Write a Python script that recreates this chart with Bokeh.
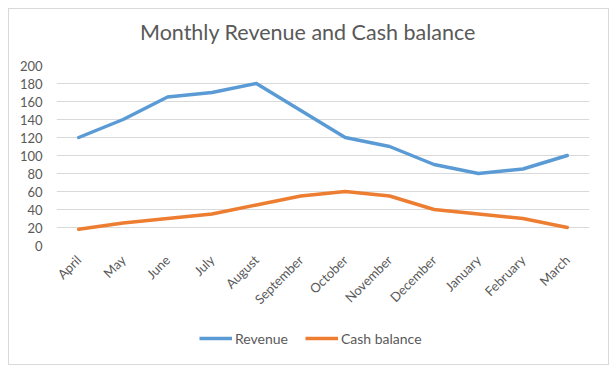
import math
from bokeh.plotting import figure
from bokeh.layouts import column
from bokeh.models import FactorRange, Range1d, FixedTicker, Legend, LegendItem, Div
from bokeh.embed import file_html
from bokeh.resources import INLINE

title_text = "Monthly Revenue and Cash balance"
months = ["April", "May", "June", "July", "August", "September", "October",
          "November", "December", "January", "February", "March"]
revenue = [120, 140, 165, 170, 180, 150, 120, 110, 90, 80, 85, 100]
cash_balance = [18, 25, 30, 35, 45, 55, 60, 55, 40, 35, 30, 20]
y_ticks = [0, 20, 40, 60, 80, 100, 120, 140, 160, 180, 200]

FONT = "Lato"
GREY = "#595959"
BLUE = "#5B9BD5"
ORANGE = "#ED7D31"

# title strip
title = Div(text=('<div style="font-family:Lato;font-size:21.5px;line-height:26px;'
                  'color:#595959;padding:10px 0 0 131px;white-space:nowrap;">'
                  + title_text + '</div>'),
            width=599, height=46, margin=0)

p = figure(width=599, height=265, output_backend="svg", toolbar_location=None,
           x_range=FactorRange(*months, range_padding=0),
           y_range=Range1d(0, 200))

p.min_border_left = 47
p.min_border_right = 19
p.min_border_top = 10
p.min_border_bottom = 75
p.outline_line_color = None

p.line(months, revenue, line_color=BLUE, line_width=3.5, line_join="round", line_cap="round")
p.line(months, cash_balance, line_color=ORANGE, line_width=3.5, line_join="round", line_cap="round")

p.xgrid.grid_line_color = None
p.ygrid.grid_line_color = "#D9D9D9"
p.ygrid.grid_line_width = 1

p.yaxis.ticker = FixedTicker(ticks=y_ticks)
for ax in (p.xaxis[0], p.yaxis[0]):
    ax.axis_line_color = None
    ax.major_tick_line_color = None
    ax.minor_tick_line_color = None
    ax.major_label_text_font = FONT
    ax.major_label_text_font_size = "13px"
    ax.major_label_text_color = GREY
p.yaxis.major_label_standoff = 8
p.xaxis.major_label_orientation = math.pi / 4
p.xaxis.major_label_standoff = 6

# legend strip below the chart
lg = figure(width=599, height=44, output_backend="svg", toolbar_location=None,
            x_range=Range1d(0, 1), y_range=Range1d(0, 1),
            x_axis_location=None, y_axis_location=None)
lg.min_border = 0
lg.outline_line_color = None
lg.xgrid.grid_line_color = None
lg.ygrid.grid_line_color = None
idx = list(range(len(months)))
lr1 = lg.line(idx, revenue, line_color=BLUE, line_width=3.5)
lr2 = lg.line(idx, cash_balance, line_color=ORANGE, line_width=3.5)

legend = Legend(items=[LegendItem(label="Revenue", renderers=[lr1]),
                       LegendItem(label="Cash balance", renderers=[lr2])],
                orientation="horizontal", location=(143, 16))
legend.label_text_font = FONT
legend.label_text_font_size = "14px"
legend.label_text_color = GREY
legend.glyph_width = 33
legend.label_standoff = 3
legend.spacing = 17
legend.padding = 4
legend.margin = 0
legend.border_line_color = None
legend.background_fill_alpha = 0
lg.add_layout(legend)

layout = column(title, p, lg, spacing=0)
layout.styles = {"border": "1px solid #d9d9d9", "margin": "8px 0 0 8px"}

open("out.html", "w").write(file_html(layout, INLINE))
